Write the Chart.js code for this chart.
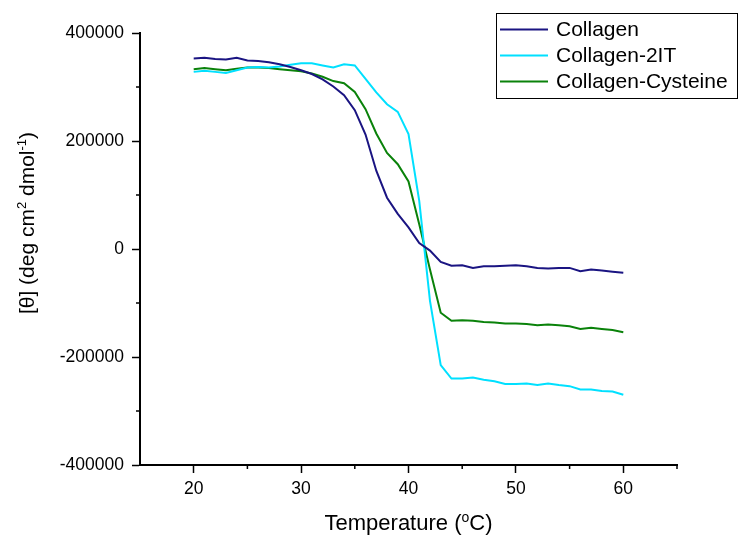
<!DOCTYPE html>
<html>
<head>
<meta charset="utf-8">
<script src="https://cdn.jsdelivr.net/npm/chart.js@4.4.1/dist/chart.umd.min.js"></script>
<style>
	html, body { margin: 0; padding: 0; background: #fff; }
	#wrap { width: 739px; height: 535px; }
</style>
</head>
<body>
<div id="wrap"><canvas id="cdChart" width="739" height="535"></canvas></div>
<script>
'use strict'

// temperature in degrees C
const temps = [20, 21, 22, 23, 24, 25, 26, 27, 28, 29, 30, 31, 32, 33, 34, 35, 36, 37, 38, 39, 40,
	41, 42, 43, 44, 45, 46, 47, 48, 49, 50, 51, 52, 53, 54, 55, 56, 57, 58, 59, 60];

// mean residue ellipticity, deg cm2 dmol-1
const collagen = [353000, 354000, 352000, 351000, 354000, 349000, 348000, 346000, 342000, 337000, 331000,
	324000, 314000, 301000, 285000, 257000, 212000, 145000, 95000, 65000, 40000,
	11000, -3000, -24000, -31000, -30000, -35000, -32000, -32000, -31000, -30000,
	-32000, -35000, -36000, -35000, -35000, -41000, -38000, -40000, -42000, -44000];

const collagen2IT = [328000, 330000, 328000, 326000, 331000, 336000, 337000, 336000, 338000, 341000, 344000,
	344000, 340000, 336000, 342000, 340000, 315000, 290000, 268000, 254000, 213000,
	89000, -96000, -215000, -240000, -240000, -238000, -242000, -245000, -250000, -250000,
	-249000, -252000, -249000, -252000, -254000, -260000, -260000, -263000, -264000, -270000];

const collagenCys = [333000, 335000, 333000, 331000, 334000, 336000, 336000, 335000, 333000, 331000, 329000,
	325000, 319000, 311000, 307000, 291000, 259000, 214000, 178000, 157000, 125000,
	46000, -38000, -118000, -133000, -132000, -133000, -135000, -136000, -138000, -138000,
	-139000, -141000, -140000, -141000, -143000, -148000, -146000, -148000, -150000, -154000];

const seriesNames = ['Collagen', 'Collagen-2IT', 'Collagen-Cysteine'];
const xTicks = [20, 30, 40, 50, 60];
const yTicks = [-400000, -200000, 0, 200000, 400000];

const colors = {
	collagen: '#1a1482',
	collagen2IT: '#00e0ff',
	collagenCys: '#0a820a',
	axis: '#000000',
};

const FONT = '"Liberation Sans", Arial, sans-serif';

function toPoints(ys) {
	return temps.map((t, i) => ({ x: t, y: ys[i] }));
}

function lineSet(label, ys, color) {
	return {
		label: label,
		data: toPoints(ys),
		borderColor: color,
		backgroundColor: color,
		borderWidth: 2,
		pointRadius: 0,
		tension: 0,
	};
}

// minor ticks halfway between the labelled ones
const minorTicks = {
	id: 'minorTicks',
	afterDraw(chart) {
		const ctx = chart.ctx;
		const x = chart.scales.x;
		const y = chart.scales.y;
		const area = chart.chartArea;
		ctx.save();
		ctx.strokeStyle = colors.axis;
		ctx.lineWidth = 1.5;
		ctx.beginPath();
		for (let v = x.min + 10; v <= x.max; v += 10) {
			const px = x.getPixelForValue(v);
			ctx.moveTo(px, area.bottom);
			ctx.lineTo(px, area.bottom + 4);
		}
		for (let v = y.min + 100000; v < y.max; v += 200000) {
			const py = y.getPixelForValue(v);
			ctx.moveTo(area.left, py);
			ctx.lineTo(area.left - 4, py);
		}
		ctx.stroke();
		ctx.restore();
	},
};

// draws a run of [text, isSuperscript] pieces starting at x, on a baseline
function drawRich(ctx, parts, x, size) {
	let cx = x;
	parts.forEach(([txt, sup]) => {
		ctx.font = (sup ? Math.round(size * 0.62) : size) + 'px ' + FONT;
		ctx.fillText(txt, cx, sup ? -size * 0.38 : 0);
		cx += ctx.measureText(txt).width;
	});
}

function richWidth(ctx, parts, size) {
	let w = 0;
	parts.forEach(([txt, sup]) => {
		ctx.font = (sup ? Math.round(size * 0.62) : size) + 'px ' + FONT;
		w += ctx.measureText(txt).width;
	});
	return w;
}

const axisTitles = {
	id: 'axisTitles',
	afterDraw(chart) {
		const ctx = chart.ctx;
		const area = chart.chartArea;
		ctx.save();
		ctx.fillStyle = colors.axis;
		ctx.textBaseline = 'alphabetic';
		ctx.textAlign = 'left';

		const xParts = [['Temperature (', false], ['o', true], ['C)', false]];
		const xw = richWidth(ctx, xParts, 22);
		ctx.save();
		ctx.translate((area.left + area.right) / 2 - xw / 2, 530);
		drawRich(ctx, xParts, 0, 22);
		ctx.restore();

		const yParts = [['[\u03b8] (deg cm', false], ['2', true], [' dmol', false], ['-1', true], [')', false]];
		const yw = richWidth(ctx, yParts, 21);
		ctx.save();
		ctx.translate(34, 223);
		ctx.rotate(-Math.PI / 2);
		drawRich(ctx, yParts, -yw / 2, 21);
		ctx.restore();
		ctx.restore();
	},
};

const boxLegend = {
	id: 'boxLegend',
	afterDraw(chart) {
		const ctx = chart.ctx;
		ctx.save();
		ctx.strokeStyle = colors.axis;
		ctx.lineWidth = 1;
		ctx.strokeRect(496.5, 13.5, 241, 85);
		ctx.font = '21px ' + FONT;
		ctx.textBaseline = 'middle';
		ctx.fillStyle = colors.axis;
		chart.data.datasets.forEach((ds, i) => {
			const cy = 29.5 + i * 26;
			ctx.strokeStyle = ds.borderColor;
			ctx.lineWidth = 2;
			ctx.beginPath();
			ctx.moveTo(500, cy);
			ctx.lineTo(548, cy);
			ctx.stroke();
			ctx.fillText(ds.label, 556, cy + 1);
		});
		ctx.restore();
	},
};

let chart = new Chart(document.getElementById('cdChart'), {
	type: 'line',
	data: {
		datasets: [
			lineSet(seriesNames[0], collagen, colors.collagen),
			lineSet(seriesNames[1], collagen2IT, colors.collagen2IT),
			lineSet(seriesNames[2], collagenCys, colors.collagenCys),
		],
	},
	plugins: [minorTicks, axisTitles, boxLegend],
	options: {
		responsive: false,
		animation: false,
		devicePixelRatio: 1,
		layout: {
			padding: { left: 0, top: 33, right: 62, bottom: 0 },
		},
		plugins: {
			legend: { display: false },
			tooltip: { enabled: false },
		},
		scales: {
			x: {
				type: 'linear',
				min: 15,
				max: 65,
				afterBuildTicks: (s) => { s.ticks = xTicks.map(v => ({ value: v })); },
				afterFit: (s) => { s.height = 70; },
				grid: {
					drawOnChartArea: false,
					tickLength: 8,
					tickWidth: 1.5,
					tickColor: colors.axis,
				},
				border: { color: colors.axis, width: 2 },
				ticks: {
					color: colors.axis,
					padding: 6,
					maxRotation: 0,
					font: { family: FONT, size: 17.5 },
				},
			},
			y: {
				min: -400000,
				max: 400000,
				afterBuildTicks: (s) => { s.ticks = yTicks.map(v => ({ value: v })); },
				afterFit: (s) => { s.width = 140; },
				grid: {
					drawOnChartArea: false,
					tickLength: 8,
					tickWidth: 1.5,
					tickColor: colors.axis,
				},
				border: { color: colors.axis, width: 2 },
				ticks: {
					color: colors.axis,
					padding: 8,
					callback: (v) => String(v),
					font: { family: FONT, size: 17.5 },
				},
			},
		},
	},
});
</script>
</body>
</html>
